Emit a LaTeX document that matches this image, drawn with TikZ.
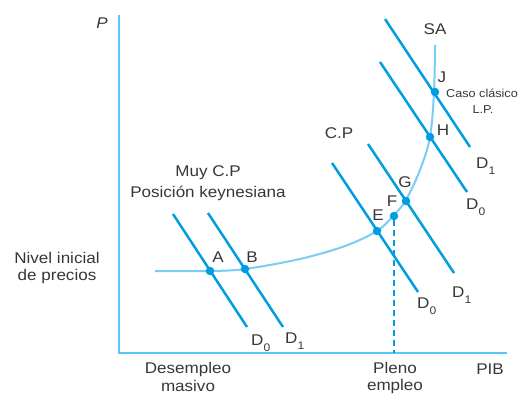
\documentclass[tikz,border=0pt]{standalone}
\usepackage{fontspec}
\setmainfont{Liberation Sans}[FakeStretch=1.1]
\definecolor{dline}{RGB}{0,158,224}
\definecolor{sacol}{RGB}{120,205,242}
\definecolor{axcol}{RGB}{90,198,245}
\definecolor{txt}{RGB}{55,55,55}
\newcommand\sbs[1]{\raisebox{-0.75ex}{\fontsize{11}{11}\selectfont #1}}
\begin{document}
\begin{tikzpicture}[x=1pt,y=-1pt,
  lbl/.style={text=txt,font=\fontsize{15.5}{17.5}\selectfont,inner sep=0pt,align=center},
  small/.style={text=txt,font=\fontsize{11.5}{13}\selectfont,inner sep=0pt,align=center},
  dlbl/.style={lbl,anchor=base west},
  dem/.style={draw=dline,line width=2.5pt},
  dot/.style={circle,fill=dline,inner sep=0pt,minimum size=8.5pt},
  axis/.style={draw=axcol,line width=2.4pt},
  sacurve/.style={draw=sacol,line width=2pt},
  dashln/.style={draw=dline,line width=2.4pt,dash pattern=on 6pt off 4pt}]
\useasboundingbox (0,0) rectangle (521,396);
% axes
\coordinate (ytop) at (119,15);
\coordinate (orig) at (119,353);
\coordinate (xend) at (507,353);
\draw[axis] (ytop) -- (orig) -- (xend);
% SA curve
\draw[sacurve] plot[smooth,tension=0.55] coordinates {(155,271) (210,271) (245,269) (300,259) (345,246) (377,231) (394,215) (406,200) (420,170) (430,137) (434,92) (435,45)};
% demand lines left
\coordinate (a0s) at (173,214); \coordinate (a0e) at (247,327);
\coordinate (a1s) at (208,213); \coordinate (a1e) at (283,327);
\draw[dem] (a0s) -- (a0e);
\draw[dem] (a1s) -- (a1e);
% middle
\coordinate (b0s) at (332,163); \coordinate (b0e) at (418,292);
\coordinate (b1s) at (368,144); \coordinate (b1e) at (454,273);
\draw[dem] (b0s) -- (b0e);
\draw[dem] (b1s) -- (b1e);
% upper
\coordinate (c0s) at (380,62); \coordinate (c0e) at (467,192);
\coordinate (c1s) at (385,19); \coordinate (c1e) at (470,147);
\draw[dem] (c0s) -- (c0e);
\draw[dem] (c1s) -- (c1e);
% dots
\node[dot] (A) at (210,271) {};
\node[dot] (B) at (245,269) {};
\node[dot] (E) at (377,231) {};
\node[dot] (F) at (394,216) {};
\node[dot] (G) at (406,201) {};
\node[dot] (H) at (430,137) {};
\node[dot] (J) at (435,92) {};
% dashed
\coordinate (Fb) at (394,353);
\draw[dashln] (F) -- (Fb);
% point labels
\node[lbl] (lA) at (218,257) {A};
\node[lbl] (lB) at (252,257) {B};
\node[lbl] (lE) at (378,215) {E};
\node[lbl] (lF) at (392,201) {F};
\node[lbl] (lG) at (405,182) {G};
\node[lbl] (lH) at (443,130) {H};
\node[lbl] (lJ) at (442,77) {J};
\node[lbl] (lSA) at (435,29) {SA};
\node[lbl] (lCP) at (339,133) {C.P};
\node[small] (caso) at (482,93) {Caso clásico};
\node[small] (lp) at (483,110) {L.P.};
% D labels
\node[dlbl] (dA0) at (251,345) {D\sbs{0}};
\node[dlbl] (dA1) at (285,343) {D\sbs{1}};
\node[dlbl] (dB0) at (417,308) {D\sbs{0}};
\node[dlbl] (dB1) at (452,297) {D\sbs{1}};
\node[dlbl] (dC0) at (466,209) {D\sbs{0}};
\node[dlbl] (dC1) at (476,168) {D\sbs{1}};
% axis & text labels
\node[lbl,font=\fontsize{15.5}{17.5}\selectfont\itshape] (lP) at (102,23) {P};
\node[lbl] (muy) at (208,173) {Muy C.P};
\node[lbl] (pos) at (208,193) {Posición keynesiana};
\node[lbl] (niv) at (57,268) {Nivel inicial\\de precios};
\node[lbl] (des) at (188,377) {Desempleo\\masivo};
\node[lbl] (ple) at (395,378) {Pleno\\empleo};
\node[lbl] (pib) at (490,369) {PIB};
\end{tikzpicture}
\end{document}
